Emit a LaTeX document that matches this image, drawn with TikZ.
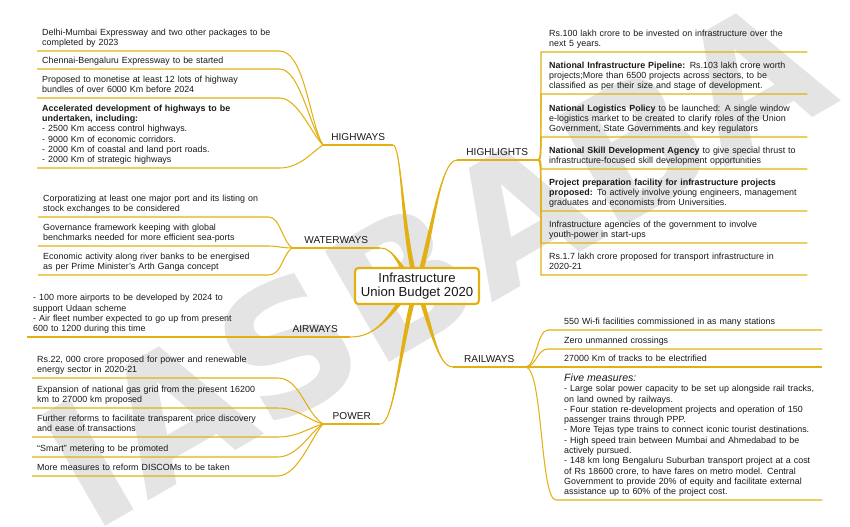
\documentclass[tikz,border=0pt]{standalone}
\usepackage{fontspec}
\setmainfont{Liberation Sans}
\newfontfamily\markfont{DejaVu Sans}
\usepackage{tikz}
\usetikzlibrary{calc, backgrounds}
\definecolor{ouro}{RGB}{226,176,18}
\definecolor{marca}{RGB}{228,228,228}
\definecolor{texto}{RGB}{25,25,25}

\newcommand{\mainbranch}[4]{%
  \fill[ouro] (#1) .. controls (#2) and ($(#3)-(#4)$) .. ($(hub)-(#4)$)
    -- ($(hub)+(#4)$) .. controls ($(#3)+(#4)$) and (#2) .. (#1);
  \draw[lineA] (#1) .. controls (#2) and (#3) .. (hub.center);}

\begin{document}
\begin{tikzpicture}[x=0.03cm, y=-0.03cm,
    leaf/.style={anchor=south west, align=left, inner ysep=1.6pt, text=texto, font=\fontsize{7.6}{8.8}\selectfont, execute at end node=\strut},
    leafH/.style={leaf, text width=6.96cm, inner xsep=0.15cm},
    leafW/.style={leaf, text width=6.6cm, inner xsep=0.15cm},
    leafA/.style={leaf, text width=6.15cm, inner xsep=0.18cm},
    leafP/.style={leaf, text width=7.05cm, inner xsep=0.15cm},
    leafL/.style={leaf, text width=7.5cm, inner xsep=0.24cm},
    leafR/.style={leaf, text width=7.26cm, inner xsep=0.48cm},
    leafS/.style={leaf, text width=7.5cm, inner xsep=0.24cm},
    tag/.style={anchor=south west, inner xsep=0pt, inner ysep=3.8pt, text depth=0pt, align=center, text=texto, font=\fontsize{8.6}{10}\selectfont},
    hub/.style={draw=ouro, line width=1.8pt, fill=white, rounded corners=3pt, minimum width=3.72cm, minimum height=1.08cm, align=center, text=texto, font=\fontsize{11.2}{12.4}\selectfont},
    watermark/.style={font=\markfont\fontsize{150}{150}\selectfont\bfseries, text=marca, rotate=30, inner sep=0pt},
    lineA/.style={draw=ouro, line width=0.9pt}
  ]
    \useasboundingbox (0,0) rectangle (850,526);

    \node[hub] (hub) at (417,286) {Infrastructure\\Union Budget 2020};

    \node[tag, minimum width=2.1cm] (hw) at (323,145) {HIGHWAYS};
    \node[tag, minimum width=2.4cm] (hl) at (457,160) {HIGHLIGHTS};
    \node[tag, minimum width=2.64cm] (ww) at (292,248) {WATERWAYS};
    \node[tag, minimum width=2.1cm] (aw) at (280,337) {AIRWAYS};
    \node[tag, minimum width=1.71cm] (pw) at (323,424) {POWER};
    \node[tag, minimum width=2.16cm] (rw) at (453,367) {RAILWAYS};

    \node[leafH] (h1) at (37,51) {Delhi-Mumbai Expressway and two other packages to be\\completed by 2023};
    \node[leafH] (h2) at (37,69) {Chennai-Bengaluru Expressway to be started};
    \node[leafH] (h3) at (37,98) {Proposed to monetise at least 12 lots of highway\\bundles of over 6000 Km before 2024};
    \node[leafH] (h4) at (37,168) {\textbf{Accelerated development of highways to be}\\\textbf{undertaken, including:}\\- 2500 Km access control highways.\\- 9000 Km of economic corridors.\\- 2000 Km of coastal and land port roads.\\- 2000 Km of strategic highways};

    \node[leafW] (w1) at (38,217) {Corporatizing at least one major port and its listing on\\stock exchanges to be considered};
    \node[leafW] (w2) at (38,246) {Governance framework keeping with global\\benchmarks needed for more efficient sea-ports};
    \node[leafW] (w3) at (38,275) {Economic activity along river banks to be energised\\as per Prime Minister's Arth Ganga concept};

    \node[leafA] (a1) at (27,337) {- 100 more airports to be developed by 2024 to\\support Udaan scheme\\- Air fleet number expected to go up from present\\600 to 1200 during this time};

    \node[leafP] (p1) at (32,378) {Rs.22, 000 crore proposed for power and renewable\\energy sector in 2020-21};
    \node[leafP] (p2) at (32,408) {Expansion of national gas grid from the present 16200\\km to 27000 km proposed};
    \node[leafP] (p3) at (32,437) {Further reforms to facilitate transparent price discovery\\and ease of transactions};
    \node[leafP] (p4) at (32,457) {“Smart” metering to be promoted};
    \node[leafP] (p5) at (32,476) {More measures to reform DISCOMs to be taken};

    \node[leafL] (l1) at (541,52) {Rs.100 lakh crore to be invested on infrastructure over the\\next 5 years.};
    \node[leafL] (l2) at (541,94) {\textbf{National Infrastructure Pipeline:} Rs.103 lakh crore worth\\projects;More than 6500 projects across sectors, to be\\classified as per their size and stage of development.};
    \node[leafL] (l3) at (541,137) {\textbf{National Logistics Policy} to be launched: A single window\\e-logistics market to be created to clarify roles of the Union\\Government, State Governments and key regulators};
    \node[leafL] (l4) at (541,169) {\textbf{National Skill Development Agency} to give special thrust to\\infrastructure-focused skill development opportunities};
    \node[leafL] (l5) at (541,211) {\textbf{Project preparation facility for infrastructure projects}\\\textbf{proposed:} To actively involve young engineers, management\\graduates and economists from Universities.};
    \node[leafL] (l6) at (541,243) {Infrastructure agencies of the government to involve\\youth-power in start-ups};
    \node[leafL] (l7) at (541,275) {Rs.1.7 lakh crore proposed for transport infrastructure in\\2020-21};

    \node[leafR] (r1) at (548,330) {550 Wi-fi facilities commissioned in as many stations};
    \node[leafR] (r2) at (548,349) {Zero unmanned crossings};
    \node[leafR] (r3) at (548,367) {27000 Km of tracks to be electrified};
    \node[leafS] (r4) at (556,500) {{\fontsize{9}{10}\selectfont\itshape Five measures:}\\- Large solar power capacity to be set up alongside rail tracks,\\on land owned by railways.\\- Four station re-development projects and operation of 150\\passenger trains through PPP.\\- More Tejas type trains to connect iconic tourist destinations.\\- High speed train between Mumbai and Ahmedabad to be\\actively pursued.\\- 148 km long Bengaluru Suburban transport project at a cost\\of Rs 18600 crore, to have fares on metro model. Central\\Government to provide 20\% of equity and facilitate external\\assistance up to 60\% of the project cost.};

    \begin{scope}[on background layer]
      \node[watermark] (wm) at (435,262) {IASBABA};

      \draw[lineA] (h1.south west) -- (h1.south east) .. controls (305,51) and (310,125) .. (hw.south west);
      \draw[lineA] (h2.south west) -- (h2.south east) .. controls (300,69) and (310,128) .. (hw.south west);
      \draw[lineA] (h3.south west) -- (h3.south east) .. controls (298,98) and (312,135) .. (hw.south west);
      \draw[lineA] (h4.south west) -- (h4.south east) .. controls (300,168) and (312,152) .. (hw.south west);
      \draw[lineA] (hw.south west) -- (hw.south east);

      \draw[lineA] (w1.south west) -- (w1.south east) .. controls (280,217) and (282,240) .. (ww.south west);
      \draw[lineA] (w2.south west) -- (w2.south east) .. controls (278,246) and (282,248) .. (ww.south west);
      \draw[lineA] (w3.south west) -- (w3.south east) .. controls (282,275) and (282,255) .. (ww.south west);
      \draw[lineA] (ww.south west) -- (ww.south east);

      \draw[lineA] (a1.south west) -- (a1.south east) -- (aw.south west) -- (aw.south east);

      \draw[lineA] (p1.south west) -- (p1.south east) .. controls (300,378) and (305,412) .. (pw.south west);
      \draw[lineA] (p2.south west) -- (p2.south east) .. controls (298,408) and (308,420) .. (pw.south west);
      \draw[lineA] (p3.south west) -- (p3.south east) .. controls (298,437) and (308,428) .. (pw.south west);
      \draw[lineA] (p4.south west) -- (p4.south east) .. controls (298,457) and (310,432) .. (pw.south west);
      \draw[lineA] (p5.south west) -- (p5.south east) .. controls (298,476) and (312,436) .. (pw.south west);
      \draw[lineA] (pw.south west) -- (pw.south east);

      \draw[lineA] (hl.south west) -- (hl.south east);
      \foreach \n in {l1,l2,l3,l4,l5,l6,l7}
        \draw[lineA] (hl.south east) .. controls (541,160) and (541,160) .. (\n.south west) -- (\n.south east);

      \draw[lineA] (rw.south west) -- (rw.south east);
      \draw[lineA] (rw.south east) .. controls (536,367) and (537,330) .. (r1.south west) -- (r1.south east);
      \draw[lineA] (rw.south east) .. controls (536,367) and (537,349) .. (r2.south west) -- (r2.south east);
      \draw[lineA] (rw.south east) -- (r3.south west) -- (r3.south east);
      \draw[lineA] (rw.south east) .. controls (543,367) and (540,500) .. (r4.south west) -- (r4.south east);

      \mainbranch{hw.south east}{402,150}{402,235}{2.5,0}
      \mainbranch{hl.south west}{440,160}{432,235}{2.5,0}
      \mainbranch{ww.south east}{395,248}{400,270}{2,-2}
      \mainbranch{aw.south east}{385,337}{395,300}{2,2}
      \mainbranch{pw.south east}{395,424}{402,330}{2.5,0}
      \mainbranch{rw.south west}{438,367}{432,330}{2.5,0}
    \end{scope}
  \end{tikzpicture}
\end{document}
